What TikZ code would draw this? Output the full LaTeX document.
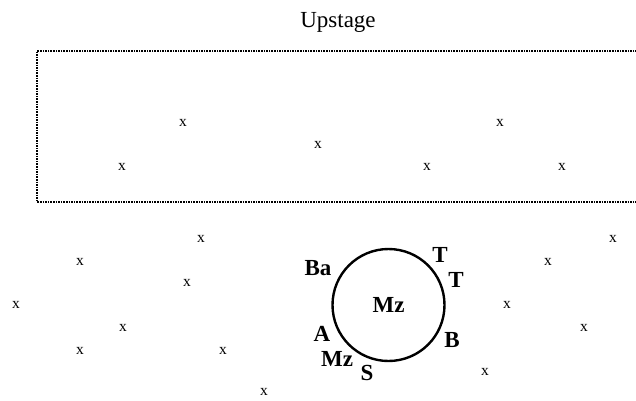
\documentclass[tikz,border=0pt]{standalone}
\usepackage{fontspec}
\setmainfont{Liberation Serif}
\usetikzlibrary{positioning}

\begin{document}
\begin{tikzpicture}[x=1pt,y=-1pt,
    actor/.style={font=\fontsize{15.5}{16}\selectfont,inner sep=0pt},
    role/.style={font=\fontsize{23}{24}\selectfont\bfseries,inner sep=0pt},
    title/.style={font=\fontsize{23}{24}\selectfont,inner sep=0pt}]
    \useasboundingbox (0,0) rectangle (636,400);

    \node[title] (up) at (338,22) {Upstage};

    % upstage area, open on the right
    \coordinate (r1) at (637,51);
    \coordinate (r2) at (37,51);
    \coordinate (r3) at (37,202);
    \coordinate (r4) at (637,202);
    \draw[line width=1.6pt,dash pattern=on 1.6pt off 1pt] (r1) -- (r2) -- (r3) -- (r4);

    % extras
    \foreach \px/\py [count=\i] in {183/123, 318/145, 500/123, 122/167, 427/167, 562/167,
        201/239, 80/262, 187/283, 16/305, 123/328, 80/351, 223/351, 264/392,
        613/239, 548/262, 507/305, 584/328, 485/372}
        \node[actor] (x\i) at (\px,\py) {x};

    % principals
    \node[circle,draw,line width=2.4pt,minimum size=112pt,inner sep=0pt,role] (ring) at (388.5,305) {Mz};
    \node[role] (ba) at (318,268) {Ba};
    \node[role] (t1) at (440,255) {T};
    \node[role] (t2) at (456,280) {T};
    \node[role] (a) at (322,334) {A};
    \node[role] (b) at (452,340) {B};
    \node[role] (mz) at (337,359) {Mz};
    \node[role] (s) at (367,373) {S};
\end{tikzpicture}
\end{document}
